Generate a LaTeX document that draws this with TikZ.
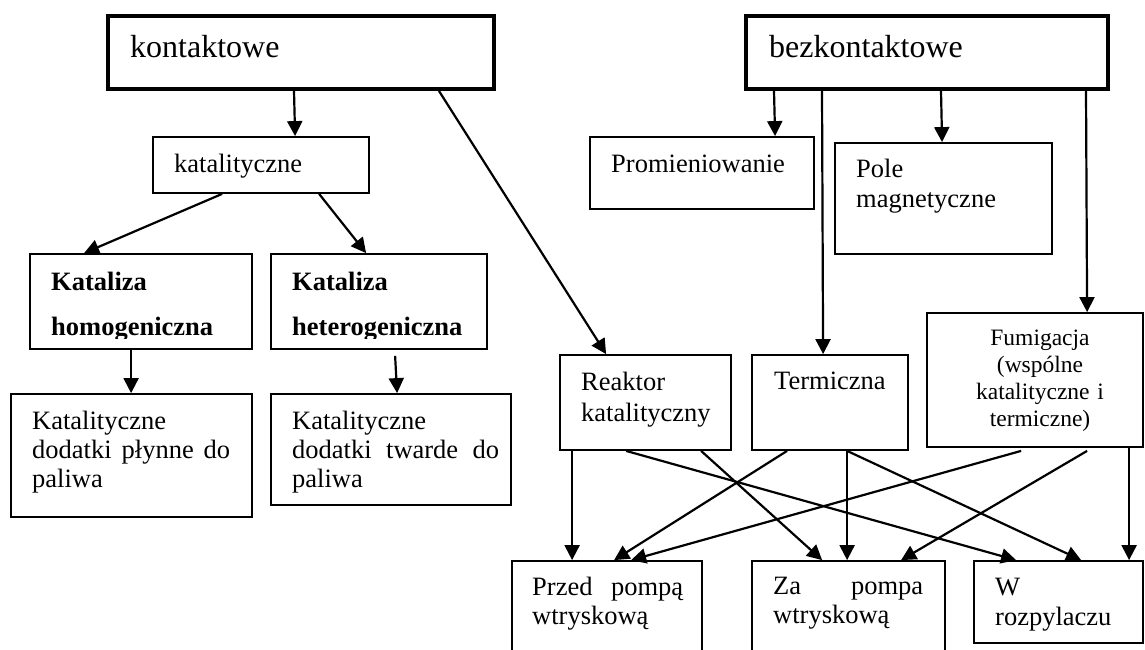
\documentclass[tikz,border=0pt]{standalone}
\usepackage{fontspec}
\setmainfont{Liberation Serif}
\usetikzlibrary{arrows.meta,fit}
\tolerance=10000
\hbadness=10000
\hyphenpenalty=10000
\exhyphenpenalty=10000
\tikzset{
  box/.style={draw, line width=1.8pt, inner sep=0pt},
  titlebox/.style={draw, line width=4pt, inner sep=0pt},
  conn/.style={line width=2.2pt, -{Triangle[length=15pt,width=15pt]}},
  ttl/.style={font=\fontsize{32}{38}\selectfont, inner sep=0pt, anchor=base west},
  txt/.style={font=\fontsize{26.5}{30}\selectfont, inner sep=0pt, anchor=base west, align=left, text width=200pt},
  jtxt/.style={font=\fontsize{26.5}{29}\selectfont, inner sep=0pt, anchor=base west, align=justify},
  btxt/.style={font=\bfseries\fontsize{26.5}{45}\selectfont, inner sep=0pt, anchor=base west, align=left, text width=200pt},
  ftxt/.style={font=\fontsize{23.5}{27}\selectfont, inner sep=0pt, anchor=base, align=center, text width=200pt}
}
\begin{document}
\begin{tikzpicture}[x=1pt,y=-1pt]
\clip (0,0) rectangle (1145,650);
\fill[white] (0,0) rectangle (1145,650);

% boxes
\node[titlebox, fit={(108,16) (494,89)}] (kont) {};
\node[titlebox, fit={(746,16) (1108,89)}] (bez) {};
\node[box, fit={(153,137) (369,193)}] (kat) {};
\node[box, fit={(30,254) (252,349)}] (homo) {};
\node[box, fit={(271,254) (487,349)}] (hete) {};
\node[box, fit={(11,394) (252,517)}] (plyn) {};
\node[box, fit={(271,394) (511,505)}] (tward) {};
\node[box, fit={(590,137) (814,209)}] (prom) {};
\node[box, fit={(835,143) (1052,254)}] (pole) {};
\node[box, fit={(560,355) (731,450)}] (reak) {};
\node[box, fit={(752,355) (908,450)}] (term) {};
\node[box, fit={(927,313) (1143,447)}] (fumi) {};
\node[box, fit={(512,561) (702,665)}] (przed) {};
\node[box, fit={(752,561) (945,665)}] (za) {};
\node[box, fit={(974,561) (1143,643)}] (wroz) {};

% texts
\node[ttl] (tkont) at (130,58) {kontaktowe};
\node[ttl] (tbez) at (769,58) {bezkontaktowe};
\node[txt] (tkat) at (174,172) {katalityczne};
\begin{scope}
\clip (0,0) rectangle (1145,338);
\node[btxt] (thomo) at (51,290) {Kataliza\\homogeniczna};
\node[btxt] (thete) at (292,290) {Kataliza\\heterogeniczna};
\end{scope}
\node[jtxt, text width=198pt] (tplyn) at (32,429) {Katalityczne dodatki płynne do paliwa};
\node[jtxt, text width=207pt] (ttward) at (292,429) {Katalityczne dodatki twarde do paliwa};
\node[txt] (tprom) at (611,172) {Promieniowanie};
\node[txt] (tpole) at (856,177) {Pole\\magnetyczne};
\node[txt, font=\fontsize{26.5}{31}\selectfont] (treak) at (581,390) {Reaktor\\katalityczny};
\node[txt] (tterm) at (774,389) {Termiczna};
\node[ftxt] (tfumi) at (1040,345) {Fumigacja\\(wspólne\\katalityczne i\\termiczne)};
\node[jtxt, text width=151pt] (tprzed) at (532,595) {Przed pompą wtryskową};
\node[jtxt, text width=150pt] (tza) at (773,594) {Za pompa wtryskową};
\node[txt] (twroz) at (995,595) {W\\rozpylaczu};

% connectors
\draw[conn] ([xshift=188pt]kont.south west) -- ([xshift=143pt]kat.north west);
\draw[conn] ([xshift=333pt]kont.south west) -- ([xshift=47pt]reak.north west);
\draw[conn] ([xshift=70pt]kat.south west) -- ([xshift=55pt]homo.north west);
\draw[conn] ([xshift=167pt]kat.south west) -- ([xshift=96pt]hete.north west);
\draw[conn] ([xshift=102pt]homo.south west) -- ([xshift=121pt]plyn.north west);
\draw[conn] ([xshift=125pt,yshift=-6pt]hete.south west) -- ([xshift=127pt]tward.north west);
\draw[conn] ([xshift=30pt]bez.south west) -- ([xshift=186pt]prom.north west);
\draw[conn] ([xshift=78pt]bez.south west) -- ([xshift=72pt]term.north west);
\draw[conn] ([xshift=197pt]bez.south west) -- ([xshift=108pt]pole.north west);
\draw[conn] ([xshift=342pt]bez.south west) -- ([xshift=161pt]fumi.north west);
\draw[conn] ([xshift=13pt]reak.south west) -- ([xshift=61pt]przed.north west);
\draw[conn] ([xshift=67pt]reak.south west) -- ([xshift=43pt]wroz.north west);
\draw[conn] ([xshift=142pt]reak.south west) -- ([xshift=71pt]za.north west);
\draw[conn] ([xshift=36pt]term.south west) -- ([xshift=103pt]przed.north west);
\draw[conn] ([xshift=96pt]term.south west) -- ([xshift=96pt]za.north west);
\draw[conn] ([xshift=96pt]term.south west) -- ([xshift=108pt]wroz.north west);
\draw[conn] ([xshift=95pt,yshift=-3pt]fumi.south west) -- ([xshift=120pt]przed.north west);
\draw[conn] ([xshift=161pt,yshift=-3pt]fumi.south west) -- ([xshift=150pt]za.north west);
\draw[conn] ([xshift=203pt]fumi.south west) -- ([xshift=156pt]wroz.north west);
\end{tikzpicture}
\end{document}
